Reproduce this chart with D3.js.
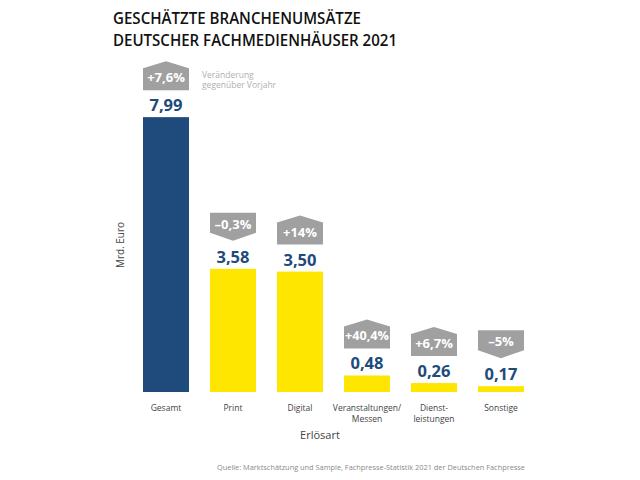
<!DOCTYPE html>
<html>
<head>
<meta charset="utf-8">
<script src="https://cdn.jsdelivr.net/npm/d3@7"></script>
<style>
  body { margin: 0; background: #fff; }
  svg { font-family: "Open Sans", sans-serif; }
</style>
</head>
<body>
<svg width="640" height="480"></svg>
<script>
// data
const categories = ["Gesamt", "Print", "Digital", "Veranstaltungen/\nMessen", "Dienst-\nleistungen", "Sonstige"];
const values = [7.99, 3.58, 3.50, 0.48, 0.26, 0.17];
const valueLabels = ["7,99", "3,58", "3,50", "0,48", "0,26", "0,17"];
const changes = [7.6, -0.3, 14, 40.4, 6.7, -5];
const changeLabels = ["+7,6%", "\u20130,3%", "+14%", "+40,4%", "+6,7%", "\u20135%"];

const svg = d3.select("svg");
const navy = "#1e4b7c", yellow = "#ffe600", grey = "#a0a0a0";

const x = d3.scaleBand().domain(categories).range([132.5, 534.5])
  .paddingInner(21 / 67).paddingOuter(10.5 / 67);
const y = d3.scaleLinear().domain([0, 8]).range([392, 392 - 8 * 34.4]);

// title
const title = ["GESCHÄTZTE BRANCHENUMSÄTZE", "DEUTSCHER FACHMEDIENHÄUSER 2021"];
svg.selectAll(".title").data(title).join("text")
  .attr("x", 113).attr("y", (d, i) => 24 + i * 22)
  .attr("font-size", 17).attr("font-weight", 600).attr("fill", "#111")
  .attr("textLength", (d, i) => i ? 284 : 248).attr("lengthAdjust", "spacingAndGlyphs")
  .text(d => d);

// bars
svg.selectAll(".bar").data(values).join("rect")
  .attr("x", (d, i) => x(categories[i]))
  .attr("y", d => y(d))
  .attr("width", x.bandwidth())
  .attr("height", d => y(0) - y(d))
  .attr("fill", (d, i) => i === 0 ? navy : yellow);

// value labels
svg.selectAll(".val").data(values).join("text")
  .attr("x", (d, i) => x(categories[i]) + x.bandwidth() / 2)
  .attr("y", d => y(d) - 6)
  .attr("text-anchor", "middle").attr("font-size", 16.5).attr("font-weight", 700)
  .attr("fill", navy)
  .text((d, i) => valueLabels[i]);

// change badges
const bw = x.bandwidth();
svg.selectAll(".badge").data(values).join("path")
  .attr("fill", grey)
  .attr("d", (d, i) => {
    const l = x(categories[i]), r = l + bw, m = l + bw / 2, t = y(d);
    if (changes[i] >= 0) {
      return `M${l},${t - 27}L${l},${t - 49}L${m},${t - 56}L${r},${t - 49}L${r},${t - 27}Z`;
    }
    return `M${l},${t - 56}L${r},${t - 56}L${r},${t - 36}L${m},${t - 28}L${l},${t - 36}Z`;
  });
svg.selectAll(".badgeText").data(values).join("text")
  .attr("x", (d, i) => x(categories[i]) + bw / 2)
  .attr("y", (d, i) => y(d) - (changes[i] >= 0 ? 35 : 40))
  .attr("text-anchor", "middle").attr("font-size", 13).attr("font-weight", 700)
  .attr("fill", "#fff")
  .attr("textLength", (d, i) => changeLabels[i].length > 5 ? 44 : null)
  .attr("lengthAdjust", "spacingAndGlyphs")
  .text((d, i) => changeLabels[i]);

// legend note
svg.append("text").attr("x", 202).attr("y", 78)
  .attr("font-size", 8.5).attr("fill", "#b0b0b0")
  .selectAll("tspan").data(["Veränderung", "gegenüber Vorjahr"]).join("tspan")
  .attr("x", 202).attr("dy", (d, i) => i ? 10 : 0).text(d => d);

// x axis category labels
const cat = svg.selectAll(".cat").data(categories).join("text")
  .attr("text-anchor", "middle").attr("font-size", 8.5).attr("fill", "#444")
  .attr("y", 411);
cat.selectAll("tspan").data(d => d.split("\n").map(s => ({ s, c: d }))).join("tspan")
  .attr("x", d => x(d.c) + bw / 2)
  .attr("dy", (d, i) => i ? 10.5 : 0)
  .text(d => d.s);

svg.append("text").attr("x", 320).attr("y", 439).attr("text-anchor", "middle")
  .attr("font-size", 11).attr("fill", "#444").text("Erlösart");

svg.append("text").attr("transform", "translate(124,245) rotate(-90)")
  .attr("text-anchor", "middle").attr("font-size", 10).attr("fill", "#444")
  .text("Mrd. Euro");

svg.append("text").attr("x", 525).attr("y", 470).attr("text-anchor", "end")
  .attr("font-size", 8).attr("fill", "#8a8a8a")
  .attr("textLength", 308).attr("lengthAdjust", "spacingAndGlyphs")
  .text("Quelle: Marktschätzung und Sample, Fachpresse-Statistik 2021 der Deutschen Fachpresse");
</script>
</body>
</html>
